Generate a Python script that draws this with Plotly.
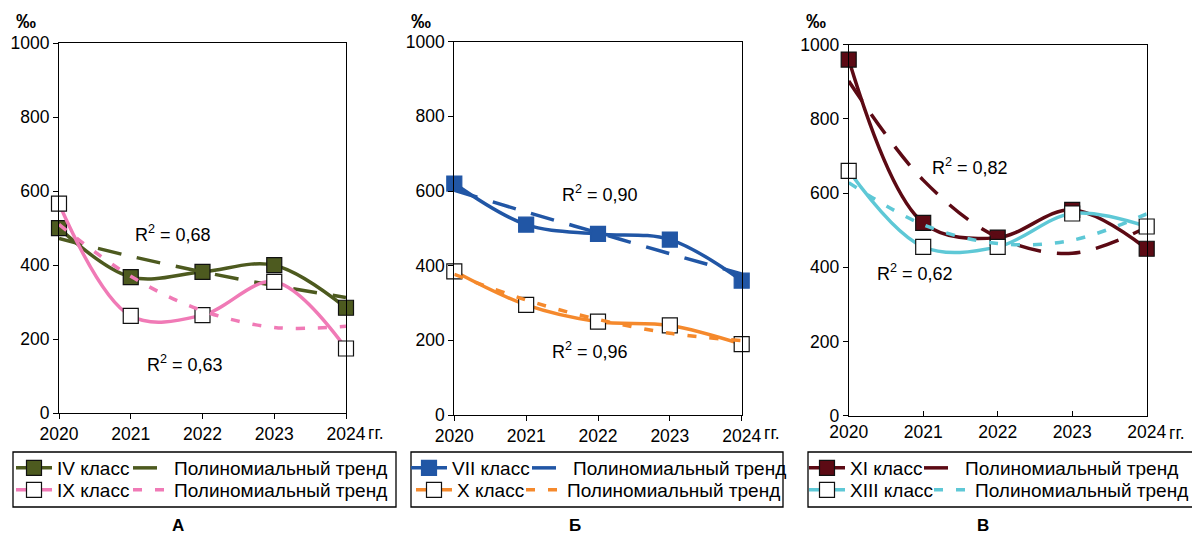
import plotly.graph_objects as go

W, H = 1192, 534
FONT = "Liberation Sans, Arial, sans-serif"

years = [2020, 2021, 2022, 2023, 2024]
year_labels = ["2020", "2021", "2022", "2023", "2024"]
y_ticks = [0, 200, 400, 600, 800, 1000]

# Panel А
iv_class = [500, 368, 382, 400, 285]
iv_trend = [472, 424, 382, 345, 313]
ix_class = [566, 263, 265, 355, 175]
ix_trend = [510, 370, 277, 232, 235]
# Panel Б
vii_class = [620, 510, 485, 470, 360]
vii_trend = [602, 544, 488, 432, 378]
x_class = [385, 295, 250, 240, 190]
x_trend = [377, 308, 256, 219, 199]
# Panel В
xi_class = [960, 520, 480, 555, 450]
xi_trend = [902, 635, 481, 438, 508]
xiii_class = [660, 455, 455, 545, 510]
xiii_trend = [628, 515, 464, 473, 544]

r2_labels = ["0,68", "0,63", "0,90", "0,96", "0,82", "0,62"]
panel_letters = ["А", "Б", "В"]
trend_name = "Полиномиальный тренд"

OLIVE = "#4d5a1f"
PINK = "#f07ab6"
BLUE = "#2156a5"
ORANGE = "#f5892c"
MAROON = "#5c0a14"
CYAN = "#5ec8d6"

LONG_DASH = "24px,16px"
SHORT_DASH = "9px,13px"


def px(x):
    return x / W


def py(y):
    return 1 - y / H


# plot areas in pixels: (left, right, top, bottom)
areas = [(59, 346, 43, 413.3), (454.3, 741.7, 41.7, 415), (848.7, 1146.7, 44.7, 415.7)]

fig = go.Figure()


def add_series(panel, name, values, trend, color, fill, edge, dash, legend, entry_w):
    xa = "x" if panel == 0 else f"x{panel + 1}"
    ya = "y" if panel == 0 else f"y{panel + 1}"
    fig.add_trace(go.Scatter(
        x=years, y=values, name=name, mode="lines+markers",
        line=dict(color=color, width=3.5, shape="spline"),
        marker=dict(symbol="square", size=15, color=fill, line=dict(color=edge, width=1.2)),
        xaxis=xa, yaxis=ya, legend=legend, legendwidth=entry_w, cliponaxis=False,
    ))
    fig.add_trace(go.Scatter(
        x=years, y=trend, name=trend_name, mode="lines",
        line=dict(color=color, width=3.5, shape="spline", dash=dash),
        xaxis=xa, yaxis=ya, legend=legend, cliponaxis=False,
    ))


add_series(0, "IV класс", iv_class, iv_trend, OLIVE, OLIVE, "#111111", LONG_DASH, "legend", 66)
add_series(0, "IX класс", ix_class, ix_trend, PINK, "white", "#111111", SHORT_DASH, "legend2", 66)
add_series(1, "VII класс", vii_class, vii_trend, BLUE, BLUE, BLUE, LONG_DASH, "legend3", 70)
add_series(1, "X класс", x_class, x_trend, ORANGE, "white", "#111111", SHORT_DASH, "legend4", 59)
add_series(2, "XI класс", xi_class, xi_trend, MAROON, MAROON, "#111111", LONG_DASH, "legend5", 64)
add_series(2, "XIII класс", xiii_class, xiii_trend, CYAN, "white", "#111111", SHORT_DASH, "legend6", 74)

axis_common = dict(
    showline=True, mirror=True, linecolor="black", linewidth=1,
    ticks="outside", ticklen=5, tickcolor="black", tickwidth=1,
    showgrid=False, zeroline=False, automargin=False,
    tickfont=dict(family=FONT, size=17.5, color="black"),
)

layout = dict(
    width=W, height=H,
    margin=dict(l=0, r=0, t=0, b=0, autoexpand=False),
    paper_bgcolor="white", plot_bgcolor="white",
    font=dict(family=FONT, color="black"),
    showlegend=True,
)

for i, (l, r, t, b) in enumerate(areas):
    suffix = "" if i == 0 else str(i + 1)
    xa = dict(axis_common, domain=[px(l), px(r)], range=[2020, 2024],
              tickvals=years, ticktext=year_labels, anchor="y" + suffix)
    if i == 2:
        xa["ticks"] = "inside"
    ya = dict(axis_common, domain=[py(b), py(t)], range=[0, 1000],
              tickvals=y_ticks, anchor="x" + suffix)
    layout["xaxis" + suffix] = xa
    layout["yaxis" + suffix] = ya

# legends: two rows per panel, framed by one box
legend_rows = [(11, 468), (11, 490), (406, 468), (411, 490), (804, 468), (804, 490)]
for i, (lx, ly) in enumerate(legend_rows):
    key = "legend" if i == 0 else f"legend{i + 1}"
    layout[key] = dict(
        x=px(lx), y=py(ly), xanchor="left", yanchor="middle",
        orientation="h", bgcolor="rgba(0,0,0,0)", borderwidth=0,
        itemwidth=36, tracegroupgap=0,
        font=dict(family=FONT, size=19, color="black"),
    )

fig.update_layout(**layout)

legend_boxes = [(13, 396), (411, 783), (808, 1200)]
for (x0, x1) in legend_boxes:
    fig.add_shape(type="rect", xref="paper", yref="paper",
                  x0=px(x0), x1=px(x1), y0=py(507), y1=py(452),
                  line=dict(color="black", width=1.3), fillcolor="rgba(0,0,0,0)")

ann = []
# R² labels
r2_pos = [(133, 234), (145, 363), (560, 193), (550, 350), (930, 166), (875, 272)]
for (ax, ay), lab in zip(r2_pos, r2_labels):
    ann.append(dict(x=px(ax), y=py(ay), xref="paper", yref="paper", xanchor="left",
                    yanchor="middle", showarrow=False, text=f"R<sup>2</sup> = {lab}",
                    font=dict(family=FONT, size=18, color="black")))
# units and year suffix
for (l, r, t, b) in areas:
    ann.append(dict(x=px(l - 33), y=py(21), xref="paper", yref="paper", xanchor="center",
                    yanchor="middle", showarrow=False, text="<b>‰</b>",
                    font=dict(family=FONT, size=20, color="black")))
    ann.append(dict(x=px(r + 20), y=py(433), xref="paper", yref="paper", xanchor="left",
                    yanchor="middle", showarrow=False, text="гг.",
                    font=dict(family=FONT, size=17.5, color="black")))
# panel letters
for lx, letter in zip([178, 575, 983], panel_letters):
    ann.append(dict(x=px(lx), y=py(525), xref="paper", yref="paper", xanchor="center",
                    yanchor="middle", showarrow=False, text=f"<b>{letter}</b>",
                    font=dict(family=FONT, size=17, color="black")))

fig.update_layout(annotations=ann)
fig.write_html("out.html")
